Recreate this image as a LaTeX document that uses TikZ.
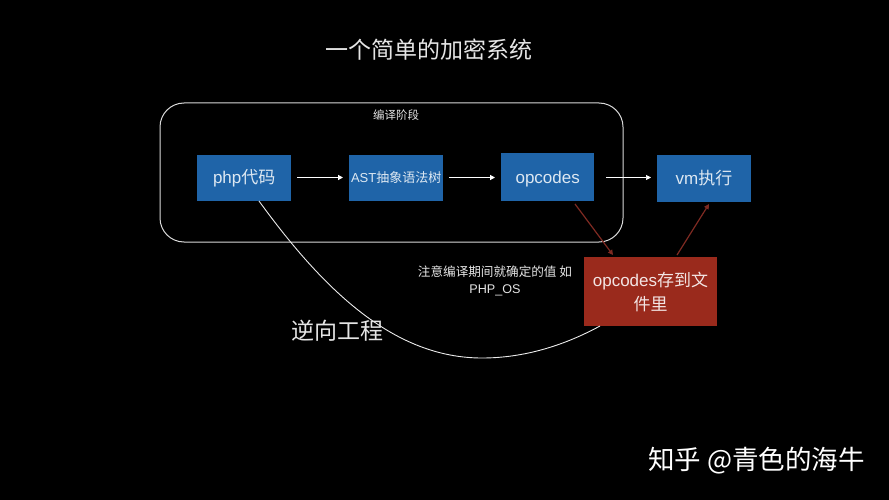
\documentclass[tikz,border=0pt]{standalone}
\usepackage{fontspec}
\setmainfont{Liberation Sans}
\newfontfamily\cjk{Noto Sans CJK SC}
\usetikzlibrary{arrows.meta}
\definecolor{boxblue}{HTML}{1F64A8}
\definecolor{boxred}{HTML}{9A2A1C}
\definecolor{arrred}{HTML}{7E2A22}
\tikzset{
 bluebox/.style={fill=boxblue,draw=none,inner sep=0pt,text=white!85!boxblue,align=center,font=\fontsize{17}{20}\selectfont},
 flow/.style={draw=white,line width=1.2pt,-{Triangle[length=5pt,width=5pt]}},
 redflow/.style={draw=arrred,line width=1.2pt,-{Triangle[length=5pt,width=5pt]}},
 lbl/.style={text=white!90!black,align=center,inner sep=0pt}
}
\begin{document}
\begin{tikzpicture}[x=1pt,y=-1pt]
\fill[black] (0,0) rectangle (889,500);
\useasboundingbox (0,0) rectangle (889,500);
\node[lbl,font=\cjk\fontsize{23}{26}\selectfont] (title) at (429,50) {一个简单的加密系统};
\draw[white!85!black,line width=1pt,rounded corners=24pt] (160,103) rectangle (623,242);
\node[lbl,font=\cjk\fontsize{11.5}{14}\selectfont] (phase) at (396,115) {编译阶段};
\node[bluebox,minimum width=93.5pt,minimum height=46pt] (php) at (244.2,178) {\rule{0pt}{12pt}php{\cjk 代码}};
\node[bluebox,minimum width=93.5pt,minimum height=46pt,font=\fontsize{13}{16}\selectfont] (ast) at (396.2,178) {AST{\cjk 抽象语法树}};
\node[bluebox,minimum width=93.5pt,minimum height=47pt] (op) at (547.7,177) {\rule[-4pt]{0pt}{20pt}opcodes};
\node[bluebox,minimum width=94pt,minimum height=47pt] (vm) at (704,178.3) {\rule{0pt}{12pt}vm{\cjk 执行}};
\node[fill=boxred,inner sep=0pt,minimum width=133pt,minimum height=69pt,text=white!88!boxred,align=center,font=\fontsize{17}{24}\selectfont] (file) at (650.5,291.5) {opcodes{\cjk 存到文}\\{\cjk 件里}};
\coordinate (a1) at (297,177.5); \coordinate (a2) at (343,177.5);
\coordinate (b1) at (449,177.5); \coordinate (b2) at (495,177.5);
\coordinate (c1) at (606,177.5); \coordinate (c2) at (651,177.5);
\draw[flow] (a1) -- (a2);
\draw[flow] (b1) -- (b2);
\draw[flow,line width=.7pt] (c1) -- (c2);
\coordinate (d1) at (575,204); \coordinate (d2) at (613,255);
\coordinate (e1) at (677,255); \coordinate (e2) at (709,204);
\draw[redflow] (d1) -- (d2);
\draw[redflow] (e1) -- (e2);
\coordinate (s) at (259,201); \coordinate (t) at (600,326);
\draw[white!92!black,line width=.9pt] (s) .. controls (325,292) and (395,358) .. (482,358) .. controls (525,358) and (565,345) .. (t);
\node[lbl,font=\fontsize{12.6}{17}\selectfont] (note) at (495,280.5) {{\cjk 注意编译期间就确定的值 如}\\PHP\_OS};
\node[lbl,font=\cjk\fontsize{23}{26}\selectfont] (rev) at (337,331) {逆向工程};
\node[lbl,text=white,font=\cjk\fontsize{26.5}{30}\selectfont,anchor=east] (mark) at (865,461) {知乎 @青色的海牛};
\end{tikzpicture}
\end{document}
